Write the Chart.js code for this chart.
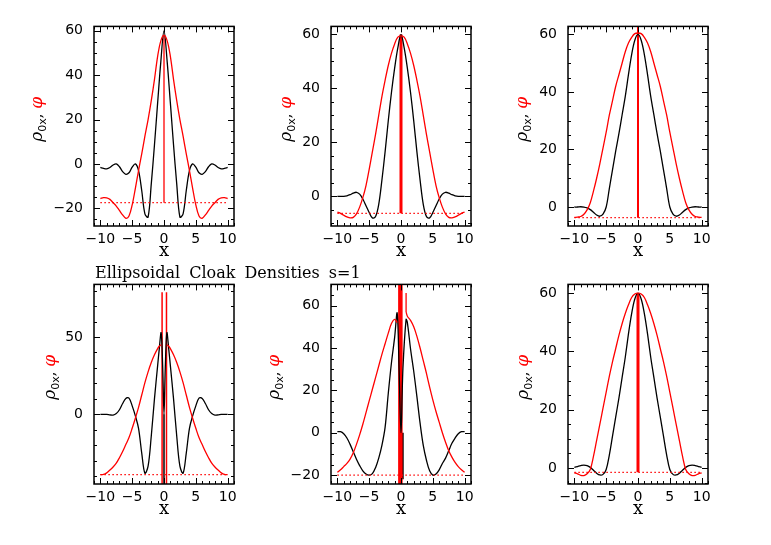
<!DOCTYPE html>
<html>
<head>
<meta charset="utf-8">
<script src="https://cdn.jsdelivr.net/npm/chart.js@4"></script>
<style>
  body { margin: 0; background: #fff; }
  #wrap { position: relative; width: 771px; height: 545px; background: #fff; overflow: hidden; }
  .panel { position: absolute; width: 223px; height: 264px; }
  #title { position: absolute; left: 95px; top: 265px; font: 16px "DejaVu Serif", serif; line-height: 16px; word-spacing: 4px; color: #000; white-space: nowrap; }
</style>
</head>
<body>
<div id="wrap">
  <div class="panel" style="left:19px;top:7px"><canvas id="c1"></canvas></div>
  <div class="panel" style="left:256px;top:7px"><canvas id="c2"></canvas></div>
  <div class="panel" style="left:493px;top:7px"><canvas id="c3"></canvas></div>
  <div class="panel" style="left:19px;top:265px"><canvas id="c4"></canvas></div>
  <div class="panel" style="left:256px;top:265px"><canvas id="c5"></canvas></div>
  <div class="panel" style="left:493px;top:265px"><canvas id="c6"></canvas></div>
  <div id="title">Ellipsoidal Cloak Densities s=1</div>
</div>
<script>
// shared x grid and tick labels
var xGrid = [-10,-9.5,-9,-8.5,-8,-7.5,-7,-6.5,-6,-5.5,-5,-4.5,-4,-3.5,-3,-2.5,-2,-1.5,-1,-0.5,0,
             0.5,1,1.5,2,2.5,3,3.5,4,4.5,5,5.5,6,6.5,7,7.5,8,8.5,9,9.5,10];
var xTicks = [-10, -5, 0, 5, 10];

// panel 1 (top left)
var p1Black = [-1.6,-2,-2.2,-1.6,-0.5,0,-1.3,-3.5,-4.7,-4,-1.5,0,-3,-12,-22.5,-24,-9,8.5,27.5,46,60,
               46,27.5,8.5,-9,-24,-22.5,-12,-3,0,-1.5,-4,-4.7,-3.5,-1.3,0,-0.5,-1.6,-2.2,-2,-1.6];
var p1Red = [-15.6,-15.2,-15.3,-16,-17.5,-19,-21,-23,-24.5,-23.5,-18.5,-11,-3,4.5,12.5,20,28.5,38,48.5,55.5,58,
             55.5,48.5,38,28.5,20,12.5,4.5,-3,-11,-18.5,-23.5,-24.5,-23,-21,-19,-17.5,-16,-15.3,-15.2,-15.6];
var p1Dot = -17.5;
var p1RedSpikes = [[0, -17.5, 58]];
var p1YTicks = [-20, 0, 20, 40, 60];

// panel 2 (top middle)
var p2Black = [0,0,0,0.2,0.6,1.2,1.5,0.8,-1,-3.5,-6,-8,-7.5,-3,6,16.5,28,38.5,47.5,55,60,
               55,47.5,38.5,28,16.5,6,-3,-7.5,-8,-6,-3.5,-1,0.8,1.5,1.2,0.6,0.2,0,0,0];
var p2Red = [-5.8,-6.3,-7,-7.6,-8,-7.8,-6.5,-4,-0.5,4,10,16.5,23,30,37,43,48.5,53,56.5,59,59.5,
             59,56.5,53,48.5,43,37,30,23,16.5,10,4,-0.5,-4,-6.5,-7.8,-8,-7.6,-7,-6.3,-5.8];
var p2Dot = -6.3;
var p2RedSpikes = [[0, -6.3, 60]];
var p2YTicks = [0, 20, 40, 60];

// panel 3 (top right)
var p3Black = [0,0,0.1,0,-0.3,-0.9,-1.8,-2.8,-3.2,-2.5,0,6.5,13,19.5,25.5,32,38.5,46,53,58,60,
               58,53,46,38.5,32,25.5,19.5,13,6.5,0,-2.5,-3.2,-2.8,-1.8,-0.9,-0.3,0,0.1,0,0];
var p3Red = [-3.6,-3.5,-3.3,-2.5,-1,1.5,5.5,10,15,20.5,26,32,37,42,46,50,54,57,59,60.3,60.5,
             60.3,59,57,54,50,46,42,37,32,26,20.5,15,10,5.5,1.5,-1,-2.5,-3.3,-3.5,-3.6];
var p3Dot = -3.7;
var p3RedSpikes = [[0, -3.7, 70]];
var p3YTicks = [0, 20, 40, 60];

// panel 4 (bottom left)
var xGrid4 = [-10,-9.5,-9,-8.5,-8,-7.5,-7,-6.5,-6,-5.5,-5,-4.5,-4,-3.5,-3,-2.5,-2,-1.5,-1,
              -0.75,-0.45,-0.2,0,0.2,0.45,0.75,
              1,1.5,2,2.5,3,3.5,4,4.5,5,5.5,6,6.5,7,7.5,8,8.5,9,9.5,10];
var p4Black = [0,0,0,-0.3,-0.5,0.5,3,7,10.3,10.5,5.5,-1,-9,-25,-38,-33.5,-14,10,31.5,
               42,52.7,30,0,30,52.7,42,
               31.5,10,-14,-33.5,-38,-25,-9,-1,5.5,10.5,10.3,7,3,0.5,-0.5,-0.3,0,0,0];
var p4Red = [-39,-38.8,-37.8,-36,-34,-31.5,-28,-24,-19.5,-15,-9,-2.5,4.5,12.5,20.5,27.5,33.5,38.5,42.5,
             44,45,null,null,null,45,44,
             42.5,38.5,33.5,27.5,20.5,12.5,4.5,-2.5,-9,-15,-19.5,-24,-28,-31.5,-34,-36,-37.8,-38.8,-39];
var p4Dot = -39;
var p4RedSpikes = [[-0.3, -45, 79], [0.39, -45, 79]];
var p4BlackSpikes = [[0, 0, -45]];
var p4YTicks = [0, 50];

// panel 5 (bottom middle)
var xGrid5 = [-10,-9.5,-9,-8.5,-8,-7.5,-7,-6.5,-6,-5.5,-5,-4.5,-4,-3.5,-3,-2.5,-2,-1.5,-1,
              -0.6,-0.3,0,0.3,0.8,
              1,1.5,2,2.5,3,3.5,4,4.5,5,5.5,6,6.5,7,7.5,8,8.5,9,9.5,10];
var p5Black = [0.5,0.5,-0.5,-2.5,-5.5,-9,-12.5,-15.5,-18,-19.5,-20,-19.3,-16.5,-12,-6,2.5,18.5,33,45,
               56.5,30,0,30,53.5,
               52,39.5,29,17,4.5,-6,-13,-18,-20,-19.5,-17.5,-14.5,-12,-8.5,-5,-2.5,-0.5,0.5,0.5];
var p5Red = [-18.7,-17.5,-16,-14.5,-12.5,-9.5,-5.5,-1,4,9.5,15,20.5,26,31.5,37,42,47,51.5,53.5,
             52,null,null,null,57,
             55,53,50,45.5,40,34,28,21.5,15.5,10,5,0,-4.5,-8.5,-11.5,-14,-16,-17.5,-18.7];
var p5Dot = -20;
var p5RedSpikes = [[-0.1, -25, 71], [0.8, 57, 66]];
var p5BlackSpikes = [[0.15, 0, -22]];
var p5YTicks = [-20, 0, 20, 40, 60];

// panel 6 (bottom right)
var p6Black = [0.2,0.5,0.8,1,0.8,0.2,-0.8,-1.8,-2.4,-2.2,-0.5,4.5,11,17.5,24,31,38,46,53,58,60,
               58,53,46,38,31,24,17.5,11,4.5,-0.5,-2.2,-2.4,-1.8,-0.8,0.2,0.8,1,0.8,0.5,0.2];
var p6Red = [-1.7,-2,-2.5,-2.6,-2,-0.5,4,9.5,15,20.5,26,31.5,36.5,41,45.5,49.5,53,56,58.5,59.7,60,
             59.7,58.5,56,53,49.5,45.5,41,36.5,31.5,26,20.5,15,9.5,4,-0.5,-2,-2.6,-2.5,-2,-1.7];
var p6Dot = -1.5;
var p6RedSpikes = [[0, -1.5, 60]];
var p6YTicks = [0, 20, 40, 60];

var RED = "#ff0000";
var BLACK = "#000000";

var panels = [
    { id: "c1", xs: xGrid, black: p1Black, red: p1Red, dot: p1Dot, redSpikes: p1RedSpikes, redW: [1.3],
      blackSpikes: [], blackW: [], yMin: -28, yMax: 62, yTicks: p1YTicks, yMinor: 5, labelOff: 57 },
    { id: "c2", xs: xGrid, black: p2Black, red: p2Red, dot: p2Dot, redSpikes: p2RedSpikes, redW: [3],
      blackSpikes: [], blackW: [], yMin: -11, yMax: 63, yTicks: p2YTicks, yMinor: 5, labelOff: 45 },
    { id: "c3", xs: xGrid, black: p3Black, red: p3Red, dot: p3Dot, redSpikes: p3RedSpikes, redW: [2],
      blackSpikes: [], blackW: [], yMin: -6.6, yMax: 62.8, yTicks: p3YTicks, yMinor: 5, labelOff: 46 },
    { id: "c4", xs: xGrid4, black: p4Black, red: p4Red, dot: p4Dot, redSpikes: p4RedSpikes, redW: [1.5, 1.5],
      blackSpikes: p4BlackSpikes, blackW: [1.5], yMin: -45, yMax: 84, yTicks: p4YTicks, yMinor: 10, labelOff: 44 },
    { id: "c5", xs: xGrid5, black: p5Black, red: p5Red, dot: p5Dot, redSpikes: p5RedSpikes, redW: [4.5, 1.3],
      blackSpikes: p5BlackSpikes, blackW: [3.5], yMin: -24.2, yMax: 70, yTicks: p5YTicks, yMinor: 5, labelOff: 57 },
    { id: "c6", xs: xGrid, black: p6Black, red: p6Red, dot: p6Dot, redSpikes: p6RedSpikes, redW: [3],
      blackSpikes: [], blackW: [], yMin: -5.5, yMax: 63, yTicks: p6YTicks, yMinor: 5, labelOff: 45 }
];

function fmt(v) {
    return v < 0 ? "\u2212" + (-v) : "" + v;
}

function spikeSets(list, widths, color) {
    return list.map(function (s, i) {
        return {
            data: [{ x: s[0], y: s[1] }, { x: s[0], y: s[2] }],
            borderColor: color, borderWidth: widths[i], tension: 0, pointRadius: 0, clip: 0
        };
    });
}

function decoPlugin(p) {
    return {
        id: "deco",
        afterDatasetsDraw: function (chart) {
            var ctx = chart.ctx, a = chart.chartArea, sx = chart.scales.x, sy = chart.scales.y;
            ctx.save();
            ctx.strokeStyle = BLACK;
            ctx.lineWidth = 1;
            ctx.beginPath();
            for (var v = -11; v <= 11; v++) {
                var px = Math.round(sx.getPixelForValue(v)) + 0.5;
                var len = xTicks.indexOf(v) >= 0 ? 6 : 3;
                ctx.moveTo(px, a.bottom); ctx.lineTo(px, a.bottom - len);
                ctx.moveTo(px, a.top); ctx.lineTo(px, a.top + len);
            }
            for (var w = Math.ceil(p.yMin / p.yMinor) * p.yMinor; w <= p.yMax; w += p.yMinor) {
                var py = Math.round(sy.getPixelForValue(w)) + 0.5;
                var l2 = p.yTicks.indexOf(w) >= 0 ? 6 : 3;
                ctx.moveTo(a.left, py); ctx.lineTo(a.left + l2, py);
                ctx.moveTo(a.right, py); ctx.lineTo(a.right - l2, py);
            }
            ctx.stroke();
            ctx.lineWidth = 1.5;
            ctx.strokeRect(a.left, a.top, a.right - a.left, a.bottom - a.top);

            // x axis title
            ctx.fillStyle = BLACK;
            ctx.font = '18px "DejaVu Serif"';
            ctx.textAlign = "center";
            ctx.textBaseline = "middle";
            ctx.fillText("x", (a.left + a.right) / 2, a.bottom + 25);

            // y axis title: rho_0x (black), phi (red)
            var parts = [
                { t: "\u03c1", f: 'italic 17px "DejaVu Serif"', c: BLACK, dy: 0 },
                { t: "0x", f: '11px "DejaVu Sans"', c: BLACK, dy: 4 },
                { t: ", ", f: '15px "DejaVu Serif"', c: BLACK, dy: 0 },
                { t: "\u03c6", f: 'italic 17px "DejaVu Serif"', c: RED, dy: 0 }
            ];
            ctx.translate(a.left - p.labelOff, (a.top + a.bottom) / 2 - 7);
            ctx.rotate(-Math.PI / 2);
            ctx.textAlign = "left";
            ctx.textBaseline = "alphabetic";
            var total = 0;
            parts.forEach(function (q) { ctx.font = q.f; total += ctx.measureText(q.t).width; });
            var cx = -total / 2;
            parts.forEach(function (q) {
                ctx.font = q.f;
                ctx.fillStyle = q.c;
                ctx.fillText(q.t, cx, 5 + q.dy);
                cx += ctx.measureText(q.t).width;
            });
            ctx.restore();
        }
    };
}

panels.forEach(function (p) {
    var datasets = [];
    datasets.push({
        data: [{ x: -10, y: p.dot }, { x: 10, y: p.dot }],
        borderColor: RED, borderWidth: 1.3, borderDash: [1.5, 2.5], pointRadius: 0, tension: 0
    });
    datasets.push({
        data: p.xs.map(function (x, i) { return { x: x, y: p.red[i] }; }),
        borderColor: RED, borderWidth: 1.3, pointRadius: 0, tension: 0.35, spanGaps: false
    });
    datasets.push({
        data: p.xs.map(function (x, i) { return { x: x, y: p.black[i] }; }),
        borderColor: BLACK, borderWidth: 1.3, pointRadius: 0, tension: 0.35
    });
    datasets = datasets.concat(spikeSets(p.redSpikes, p.redW, RED));
    datasets = datasets.concat(spikeSets(p.blackSpikes, p.blackW, BLACK));

    var tickFont = { family: "DejaVu Sans", size: 14 };

    new Chart(document.getElementById(p.id), {
        type: "line",
        data: { datasets: datasets },
        options: {
            responsive: true,
            maintainAspectRatio: false,
            animation: false,
            devicePixelRatio: 1,
            layout: { padding: { left: 0, right: 8, top: 0, bottom: 0 } },
            plugins: { legend: { display: false }, tooltip: { enabled: false } },
            scales: {
                x: {
                    type: "linear", min: -11, max: 11,
                    grid: { display: false, drawTicks: false }, border: { display: false },
                    afterBuildTicks: function (s) { s.ticks = xTicks.map(function (v) { return { value: v }; }); },
                    afterFit: function (s) { s.height = 45; },
                    ticks: { padding: 5, color: BLACK, font: tickFont, maxRotation: 0, autoSkip: false, callback: fmt }
                },
                y: {
                    type: "linear", min: p.yMin, max: p.yMax,
                    grid: { display: false, drawTicks: false }, border: { display: false },
                    afterBuildTicks: function (s) { s.ticks = p.yTicks.map(function (v) { return { value: v }; }); },
                    afterFit: function (s) { s.width = 75; },
                    ticks: { padding: 11, color: BLACK, font: tickFont, autoSkip: false, callback: fmt }
                }
            }
        },
        plugins: [decoPlugin(p)]
    });
});
</script>
</body>
</html>
